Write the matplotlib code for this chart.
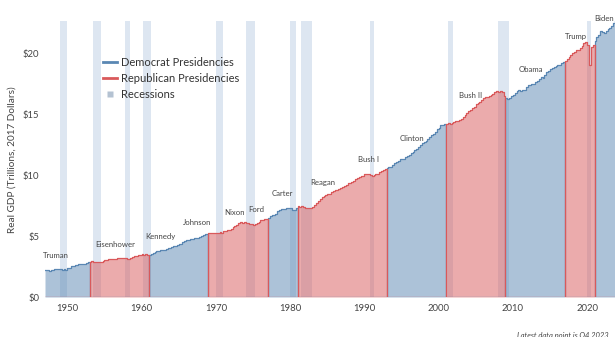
import numpy as np
import matplotlib
matplotlib.use("Agg")
import matplotlib.pyplot as plt
from matplotlib.lines import Line2D

plt.rcParams["font.family"] = ["Lato", "DejaVu Sans"]

# Real GDP, trillions of chained 2017 dollars, quarterly 1947Q1-2023Q4
first_year = 1947
gdp = [
    2.183, 2.177, 2.172, 2.206,   # 1947
    2.240, 2.277, 2.290, 2.292,   # 1948
    2.261, 2.253, 2.276, 2.257,   # 1949
    2.346, 2.418, 2.511, 2.559,   # 1950
    2.594, 2.639, 2.693, 2.699,   # 1951
    2.728, 2.734, 2.754, 2.844,   # 1952
    2.897, 2.919, 2.903, 2.852,   # 1953
    2.846, 2.847, 2.879, 2.933,   # 1954
    3.013, 3.068, 3.110, 3.146,   # 1955
    3.133, 3.149, 3.148, 3.188,   # 1956
    3.212, 3.207, 3.228, 3.196,   # 1957
    3.114, 3.140, 3.207, 3.279,   # 1958
    3.329, 3.406, 3.409, 3.422,   # 1959
    3.503, 3.483, 3.490, 3.452,   # 1960
    3.478, 3.544, 3.608, 3.684,   # 1961
    3.743, 3.786, 3.824, 3.832,   # 1962
    3.881, 3.921, 3.998, 4.026,   # 1963
    4.108, 4.154, 4.214, 4.228,   # 1964
    4.325, 4.390, 4.482, 4.588,   # 1965
    4.683, 4.697, 4.732, 4.772,   # 1966
    4.812, 4.816, 4.858, 4.889,   # 1967
    5.020, 5.100, 5.140, 5.160,   # 1968
    5.240, 5.260, 5.290, 5.270,   # 1969
    5.260, 5.260, 5.310, 5.260,   # 1970
    5.400, 5.430, 5.480, 5.500,   # 1971
    5.620, 5.750, 5.810, 5.920,   # 1972
    6.060, 6.120, 6.080, 6.140,   # 1973
    6.100, 6.110, 6.030, 6.000,   # 1974
    5.920, 5.970, 6.090, 6.170,   # 1975
    6.300, 6.350, 6.370, 6.440,   # 1976
    6.510, 6.640, 6.760, 6.760,   # 1977
    6.780, 7.050, 7.120, 7.210,   # 1978
    7.220, 7.230, 7.290, 7.310,   # 1979
    7.330, 7.180, 7.180, 7.320,   # 1980
    7.470, 7.410, 7.490, 7.400,   # 1981
    7.290, 7.330, 7.300, 7.320,   # 1982
    7.400, 7.570, 7.740, 7.900,   # 1983
    8.060, 8.200, 8.270, 8.340,   # 1984
    8.420, 8.490, 8.620, 8.680,   # 1985
    8.770, 8.810, 8.890, 8.940,   # 1986
    9.000, 9.100, 9.170, 9.320,   # 1987
    9.370, 9.480, 9.540, 9.670,   # 1988
    9.780, 9.860, 9.940, 9.970,   # 1989
    10.08, 10.12, 10.10, 10.00,   # 1990
    9.950, 10.02, 10.06, 10.11,   # 1991
    10.22, 10.33, 10.43, 10.54,   # 1992
    10.60, 10.65, 10.71, 10.85,   # 1993
    10.96, 11.11, 11.18, 11.30,   # 1994
    11.34, 11.36, 11.46, 11.54,   # 1995
    11.63, 11.82, 11.93, 12.06,   # 1996
    12.15, 12.35, 12.50, 12.62,   # 1997
    12.74, 12.83, 12.97, 13.17,   # 1998
    13.29, 13.39, 13.58, 13.81,   # 1999
    13.84, 14.10, 14.12, 14.23,   # 2000
    14.18, 14.25, 14.20, 14.27,   # 2001
    14.34, 14.42, 14.47, 14.49,   # 2002
    14.58, 14.74, 14.98, 15.14,   # 2003
    15.25, 15.36, 15.49, 15.63,   # 2004
    15.82, 15.89, 16.04, 16.13,   # 2005
    16.35, 16.40, 16.42, 16.54,   # 2006
    16.59, 16.70, 16.80, 16.88,   # 2007
    16.85, 16.94, 16.85, 16.49,   # 2008
    16.30, 16.27, 16.33, 16.53,   # 2009
    16.58, 16.74, 16.87, 16.96,   # 2010
    16.92, 17.03, 17.03, 17.22,   # 2011
    17.37, 17.44, 17.47, 17.49,   # 2012
    17.66, 17.71, 17.86, 18.02,   # 2013
    17.97, 18.21, 18.43, 18.54,   # 2014
    18.72, 18.82, 18.90, 18.93,   # 2015
    19.03, 19.07, 19.17, 19.26,   # 2016
    19.40, 19.51, 19.66, 19.88,   # 2017
    20.04, 20.15, 20.28, 20.30,   # 2018
    20.43, 20.60, 20.84, 20.95,   # 2019
    20.67, 19.03, 20.51, 20.72,   # 2020
    20.99, 21.31, 21.48, 21.85,   # 2021
    21.74, 21.71, 21.85, 21.99,   # 2022
    22.11, 22.23, 22.49, 22.68,   # 2023
]

# Presidencies: name, term start (year fraction), party
presidents = ["Truman", "Eisenhower", "Kennedy", "Johnson", "Nixon", "Ford", "Carter",
              "Reagan", "Bush I", "Clinton", "Bush II", "Obama", "Trump", "Biden"]
term_start = [1945.3, 1953.0, 1961.0, 1963.9, 1969.0, 1974.6, 1977.0,
              1981.0, 1989.0, 1993.0, 2001.0, 2009.0, 2017.0, 2021.0]
party = ["D", "R", "D", "D", "R", "R", "D", "R", "R", "D", "R", "D", "R", "D"]

# NBER recessions (quarterly indicator spans)
recession_start = [1949.0, 1953.5, 1957.75, 1960.25, 1970.0, 1974.0, 1980.0,
                   1981.5, 1990.75, 2001.25, 2008.0, 2020.0]
recession_end = [1950.0, 1954.5, 1958.5, 1961.25, 1971.0, 1975.25, 1980.75,
                 1983.0, 1991.25, 2002.0, 2009.5, 2020.5]

# Where each president's name sits (year, trillions)
label_year = [1948.5, 1956.4, 1962.5, 1967.5, 1972.45, 1975.4, 1978.9,
              1984.4, 1990.5, 1996.4, 2004.35, 2012.45, 2018.5, 2022.3]
label_value = [3.37, 4.35, 4.93, 6.08, 6.9, 7.2, 8.46,
               9.36, 11.25, 12.97, 16.5, 18.64, 21.35, 22.9]

DEM_LINE = "#5a87b3"
REP_LINE = "#d9595b"

t = first_year + np.arange(len(gdp)) / 4.0
values = np.array(gdp)

# party in office for each quarter
idx = np.searchsorted(np.array(term_start), t, side="right") - 1
quarter_party = np.array(party)[idx]
dem = np.where(quarter_party == "D", values, 0.0)
rep = np.where(quarter_party == "R", values, 0.0)

fig = plt.figure(figsize=(6.15, 3.37), dpi=100)
W, H = 615, 337
ax = fig.add_axes([45 / W, 40 / H, 570 / W, 276.3 / H])

for s, e in zip(recession_start, recession_end):
    ax.axvspan(s, e, color="#b0c4de", alpha=0.42, lw=0, zorder=0)

for series, col in ((dem, DEM_LINE), (rep, REP_LINE)):
    ax.fill_between(t, 0, series, step="post", color=col, alpha=0.5, lw=0, zorder=1)
    ax.plot(t, series, drawstyle="steps-post", color=col, lw=0.9, zorder=2)

for name, x, y in zip(presidents, label_year, label_value):
    ax.text(x, y, name, ha="center", va="center", fontsize=5.6, color="#444444", zorder=3,
            clip_on=False)

ax.set_xlim(first_year, t[-1])
ax.set_ylim(0, 22.68)
ax.set_xticks([1950, 1960, 1970, 1980, 1990, 2000, 2010, 2020])
ax.set_yticks([0, 5, 10, 15, 20])
ax.set_yticklabels([f"${v}" for v in [0, 5, 10, 15, 20]])
ax.tick_params(length=0, labelsize=6.8, colors="#444444")
ax.tick_params(axis="x", pad=5)
ax.tick_params(axis="y", pad=4)
for sp in ax.spines.values():
    sp.set_visible(False)

fig.text(12 / W, 1 - 160 / H, "Real GDP (Trillions, 2017 Dollars)", rotation=90,
         ha="center", va="center", fontsize=7.2, color="#444444")

handles = [
    Line2D([0], [0], color=DEM_LINE, lw=2),
    Line2D([0], [0], color=REP_LINE, lw=2),
    Line2D([0], [0], marker="s", linestyle="none", markersize=4.5,
           markerfacecolor="#b4c2d2", markeredgecolor="none"),
]
ax.legend(handles, ["Democrat Presidencies", "Republican Presidencies", "Recessions"],
          loc="upper left", bbox_to_anchor=(0.094, 0.885), frameon=False, fontsize=8,
          handlelength=1.3, handletextpad=0.35, labelspacing=0.45, borderaxespad=0,
          labelcolor="#333333")

fig.text(609 / W, 1 - 332 / H, "Latest data point is Q4 2023", ha="right", va="top",
         fontsize=5.5, style="italic", color="#444444")

fig.savefig("out.png", dpi=100)
